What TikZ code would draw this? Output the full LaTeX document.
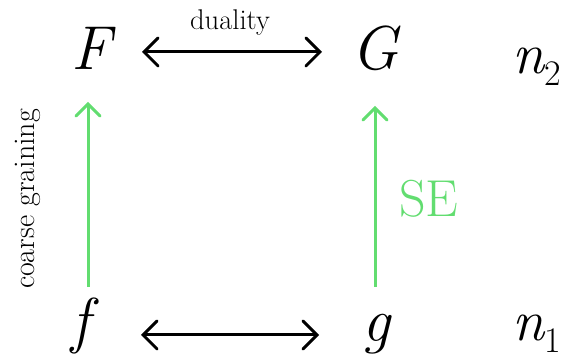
\documentclass[tikz,border=0pt]{standalone}
\usetikzlibrary{arrows.meta,calc}
\definecolor{sgreen}{RGB}{98,221,112}
\newcommand{\subidx}[1]{\raisebox{-0.19em}{\fontsize{36}{40}\selectfont #1}}
\tikzset{
  mathlbl/.style={anchor=base,inner sep=0pt,font=\fontsize{62}{70}\selectfont\itshape},
  idxlbl/.style={anchor=base,inner sep=0pt,font=\fontsize{58}{64}\selectfont},
  dualarrow/.style={line width=3pt,{Straight Barb[length=14pt,width=28pt,line cap=round]}-{Straight Barb[length=14pt,width=28pt,line cap=round]}},
  greenarrow/.style={line width=3pt,draw=sgreen,-{Straight Barb[length=12pt,width=24pt,line cap=round]}},
  smalltxt/.style={inner sep=0pt,font=\fontsize{28.5}{30}\selectfont}
}
\begin{document}
\begin{tikzpicture}[x=1pt,y=-1pt]
\useasboundingbox (0,0) rectangle (566,358);
\node[mathlbl] (F) at (91,70) {F};
\node[mathlbl] (G) at (375,70) {G};
\node[mathlbl] (f) at (81,342) {f};
\node[mathlbl] (g) at (376,342) {g};
\node[idxlbl] (n2) at (537,74) {{\itshape n}\subidx{2}};
\node[idxlbl] (n1) at (537,341) {{\itshape n}\subidx{1}};
\node[smalltxt] (dual) at (230,23) {duality};
\node[smalltxt,rotate=90,font=\fontsize{30}{32}\selectfont] (cg) at (28,199) {coarse graining};
\node[inner sep=0pt,text=sgreen,font=\fontsize{52}{56}\selectfont] (se) at (429,199) {SE};
\draw[dualarrow] ($(F.base)+(51,-18)$) -- ($(G.base)+(-53,-18)$);
\draw[dualarrow] ($(f.base)+(60,-7)$) -- ($(g.base)+(-57,-7)$);
\draw[greenarrow] ($(f.base)+(7,-55)$) -- ($(F.base)+(-3,32)$);
\draw[greenarrow] ($(g.base)+(-1,-55)$) -- ($(G.base)+(0,36)$);
\end{tikzpicture}
\end{document}
